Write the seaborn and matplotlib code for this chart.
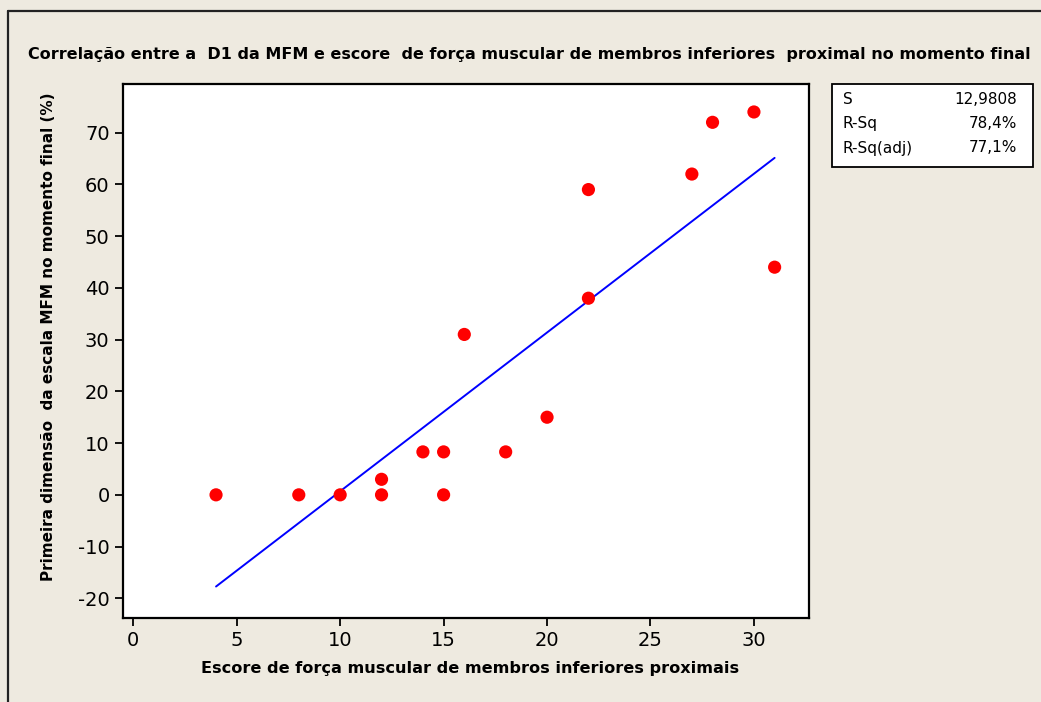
import matplotlib
matplotlib.use("Agg")
import matplotlib.pyplot as plt
import pandas as pd
import seaborn as sns
from matplotlib.patches import Rectangle

# Values
forca = [4, 8, 10, 12, 12, 14, 15, 15, 16, 18, 20, 22, 22, 27, 28, 30, 31]
d1_mfm = [0, 0, 0, 3, 0, 8.3, 8.3, 0, 31, 8.3, 15, 59, 38, 62, 72, 74, 44]
stats_names = ["S", "R-Sq", "R-Sq(adj)"]
stats_values = ["12,9808", "78,4%", "77,1%"]

df = pd.DataFrame({"forca": forca, "d1": d1_mfm})

bg = "#eeeae0"
sns.set_style("ticks")
plt.rcParams["font.family"] = ["DejaVu Sans"]
plt.rcParams["axes.unicode_minus"] = False
plt.rcParams["text.color"] = "black"
plt.rcParams["axes.labelcolor"] = "black"

fig = plt.figure(figsize=(10.41, 7.02), dpi=100, facecolor=bg)
ax = fig.add_axes([0.1179, 0.1197, 0.7771 - 0.1179, 0.8803 - 0.1197])
ax.set_facecolor("white")

sns.regplot(data=df, x="forca", y="d1", scatter=False, ci=None, ax=ax,
            line_kws={"color": "#0000ff", "lw": 1.4})
sns.scatterplot(data=df, x="forca", y="d1", ax=ax, color="#ff0000", s=90,
                edgecolor="none", zorder=3)

ax.set_xlim(-0.51, 32.66)
ax.set_ylim(-23.8, 79.4)
ax.set_xticks([0, 5, 10, 15, 20, 25, 30])
ax.set_yticks([-20, -10, 0, 10, 20, 30, 40, 50, 60, 70])
ax.tick_params(direction="out", length=6, width=1.3, labelsize=14, colors="black")
for sp in ax.spines.values():
    sp.set_visible(True)
    sp.set_linewidth(1.6)
    sp.set_color("black")

ax.set_xlabel("Escore de força muscular de membros inferiores proximais",
              fontsize=11.6, fontweight="bold")
ax.set_ylabel("Primeira dimensão  da escala MFM no momento final (%)",
              fontsize=11, fontweight="bold")
ax.xaxis.set_label_coords(0.506, -0.081)
ax.yaxis.set_label_coords(-0.097, 0.527)

fig.text(0.5087, 1 - 55 / 702,
         "Correlação entre a  D1 da MFM e escore  de força muscular de membros inferiores  proximal no momento final",
         ha="center", va="center", fontsize=11.5, fontweight="bold")

# stats box
W, H = 1041, 702
fig.patches.append(Rectangle((832 / W, 1 - 167 / H), (1033 - 832) / W, (167 - 84) / H,
                             transform=fig.transFigure, facecolor="white",
                             edgecolor="black", lw=1.3))
for i, (n, v) in enumerate(zip(stats_names, stats_values)):
    yy = 1 - (99 + i * 24.5) / H
    fig.text(843 / W, yy, n, ha="left", va="center", fontsize=11)
    fig.text(1017 / W, yy, v, ha="right", va="center", fontsize=11)

# outer frame lines (top and left)
fig.add_artist(plt.Line2D([8 / W, 1], [1 - 11 / H, 1 - 11 / H], transform=fig.transFigure,
                          color="#222222", lw=1.6))
fig.add_artist(plt.Line2D([8 / W, 8 / W], [0, 1 - 11 / H], transform=fig.transFigure,
                          color="#222222", lw=1.6))

fig.savefig("out.png", dpi=100, facecolor=bg)
